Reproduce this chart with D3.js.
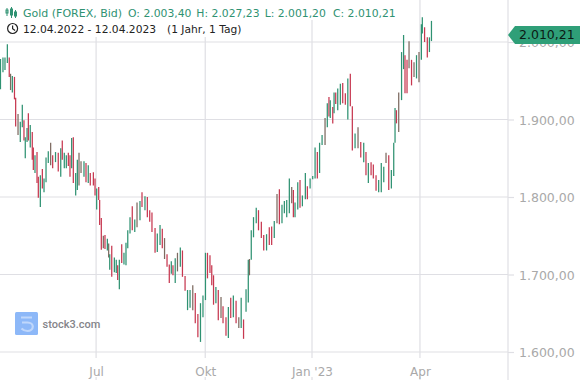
<!DOCTYPE html>
<html lang="de">
<head>
<meta charset="utf-8">
<script src="https://cdn.jsdelivr.net/npm/d3@7/dist/d3.min.js"></script>
<style>
html,body{margin:0;padding:0;background:#fff;overflow:hidden}
text{font-family:"DejaVu Sans",sans-serif}
</style>
</head>
<body>
<svg id="chart" width="580" height="380"></svg>
<script>
// Days since 12.04.2022 for each bar
const days = [0.4,2.5,4.2,6.2,7.8,8.9,10.4,12.2,13.2,15.2,17.1,18.8,20.2,21.3,22.8,23.9,25.5,27.2,28.1,29.5,31.2,32.3,34,35.7,37.1,38.8,40.7,42.7,44.4,46.8,49.1,51.2,52.5,54.2,55.9,57.6,59,60.4,61.8,63.8,65.2,66.6,68.3,70.8,72.5,74.4,76.1,78.7,80.1,81.5,83.2,84,85.4,87.1,88.5,90.5,91.6,92.5,94.2,96.4,98,99.2,100.6,102.6,104.5,106.2,107.7,109.6,111.5,113.6,115.5,118,119.7,122.2,124.2,126.2,128.1,130.7,132.6,134.9,136.8,138.7,140.8,142.7,144.4,145.8,147.7,149.6,152,153.8,156,158.1,160.2,162.5,164.6,166.8,169,171.1,173.2,174.9,177,178.5,180,182,184,186.3,188,190.5,192.5,194.5,196.7,199,201.3,203.3,205.3,207.4,209.3,210.3,211.8,213.7,216,217.9,220.3,222.3,224.7,227,229,231.2,233.5,235.5,237.7,239.7,241.7,243.9,245.9,247.3,248.7,251,252.9,254.9,257.4,259.1,261.4,263.6,265.6,267.5,269.4,271.5,274,275.9,277.3,278.4,280.5,281.6,283,284.7,286.9,288.9,291.1,293.2,295.3,297,299.3,301.8,304.1,306.6,308.5,310.5,312.8,314.7,317,319.2,321.4,323.5,325.4,327.7,329.9,331.9,333,334.2,336.1,338.5,340.2,341.4,343.1,344.8,346.9,349,351.1,353.2,355.2,356,357.9,360.2,362,363.7];
const highs = [1978,1980,1980,1997,1980,1959,1956,1955,1928,1907,1897,1919,1899,1877,1889,1908,1893,1884,1864,1854,1858,1826,1828,1836,1824,1851,1859,1870,1854,1858,1857,1863,1873,1857,1854,1857,1854,1876,1877,1831,1848,1857,1846,1846,1844,1841,1831,1832,1824,1811,1813,1796,1773,1750,1751,1746,1740,1726,1737,1722,1719,1712,1719,1739,1728,1741,1757,1774,1788,1771,1793,1795,1806,1801,1800,1783,1780,1760,1753,1764,1759,1747,1726,1713,1717,1712,1721,1728,1735,1731,1698,1680,1680,1686,1676,1649,1663,1673,1728,1728,1725,1712,1699,1684,1680,1671,1659,1645,1658,1670,1673,1666,1645,1670,1642,1681,1719,1720,1757,1774,1786,1783,1768,1751,1752,1761,1762,1769,1804,1810,1790,1795,1796,1824,1813,1809,1793,1819,1822,1802,1831,1814,1824,1827,1864,1858,1870,1880,1902,1921,1929,1925,1916,1935,1935,1940,1946,1947,1934,1953,1959,1917,1882,1890,1871,1870,1858,1844,1845,1842,1828,1822,1844,1839,1857,1854,1835,1870,1915,1912,1935,1987,2009,1983,1977,2001,1977,1974,1983,1987,2023,2032,2019,2006,2006,2027.23];
const lows = [1939,1961,1964,1973,1955,1938,1935,1926,1891,1880,1871,1890,1873,1850,1871,1873,1864,1848,1835,1831,1818,1799,1787,1811,1806,1819,1844,1841,1837,1845,1833,1826,1848,1837,1837,1840,1826,1837,1818,1802,1809,1815,1831,1826,1819,1818,1815,1815,1802,1784,1796,1764,1732,1734,1733,1731,1722,1706,1697,1703,1702,1693,1681,1715,1713,1712,1734,1753,1757,1755,1761,1770,1787,1783,1774,1768,1755,1728,1729,1738,1734,1720,1710,1689,1701,1699,1689,1704,1710,1697,1679,1654,1657,1654,1637,1619,1613,1645,1667,1695,1702,1686,1661,1663,1641,1644,1637,1621,1618,1644,1645,1637,1631,1631,1617,1652,1664,1699,1719,1748,1766,1757,1747,1731,1731,1738,1738,1747,1766,1765,1766,1779,1774,1779,1792,1774,1774,1784,1786,1788,1797,1797,1811,1823,1824,1824,1831,1867,1867,1890,1904,1902,1895,1908,1920,1912,1919,1921,1919,1900,1917,1860,1863,1863,1851,1845,1828,1818,1828,1824,1808,1806,1806,1819,1844,1809,1811,1827,1870,1895,1884,1925,1965,1934,1934,1966,1944,1955,1953,1948,1977,2011,2000,1980,1987,2001.2];
// Direction of each bar: u = up, d = down, f = nearly flat
const moveRows = ["uuuudfuddf","uuduududdu","dduduuufdu","duduuddudu","uffududddu","dddfdufudu","ududuuuudu","fududddduu","dfddudufud","duufdduuud","dddudfddud","udfuduufuu","uddduddufd","uuuufduudu","uduuuduufu","dududuuddu","ddufdududd","duuufduuud","fuuddfdfuf","uudduu"];
const moves = moveRows.join("").split("");
const yTicks = [1600,1700,1800,1900,2000];
const xTickDays = [81,173,263,354];
const xTickLabels = ["Jul","Okt","Jan '23","Apr"];
const lastPrice = 2010.21;
const headerName = "Gold (FOREX, Bid)";
const headerOHLC = ["O: 2.003,40","H: 2.027,23","L: 2.001,20","C: 2.010,21"];
const headerRange = "12.04.2022 - 12.04.2023";
const headerSpan = "(1 Jahr, 1 Tag)";
const brand = "stock3.com";

const W = 580, H = 380, axisX = 508;
const green = "#2f9272", red = "#c73850", flat = "#7d6a60", grid = "#dfdfe4", axisText = "#a9a9a9";
const svg = d3.select("#chart");
const x = d3.scaleLinear().domain([0,365]).range([0,433]);
const y = d3.scaleLinear().domain([1600,2000]).range([352,42]);
const de = d3.formatLocale({decimal:",",thousands:".",grouping:[3],currency:["",""]});
const fmt = de.format(",.2f");

// Grid
svg.append("g").selectAll("line").data(yTicks).join("line")
  .attr("x1",0).attr("x2",axisX).attr("y1",d=>y(d)).attr("y2",d=>y(d))
  .attr("stroke",grid).attr("stroke-width",1.2);
svg.append("g").selectAll("line").data(xTickDays).join("line")
  .attr("x1",d=>x(d)).attr("x2",d=>x(d)).attr("y1",0).attr("y2",H)
  .attr("stroke",grid).attr("stroke-width",1.2);

// Watermark
const wm = svg.append("g");
wm.append("rect").attr("x",15).attr("y",312).attr("width",23).attr("height",23).attr("rx",1.5).attr("fill","#8db8f8");
wm.append("path").attr("d","M21 317.5H32M22 322.5H27.5C31 322.5 32.8 324.5 32.8 326.5C32.8 329 30.5 331 27.5 331C25 331 23 330 21.5 328.5")
  .attr("fill","none").attr("stroke","#c0d7fb").attr("stroke-width",2.2);
wm.append("text").attr("x",42.5).attr("y",328).attr("font-size",11).attr("font-weight",500)
  .style("font-family","Roboto, sans-serif").attr("fill","#85858a").text(brand);

// Bars
const color = m => m==="u"?green:m==="d"?red:flat;
svg.append("g").selectAll("line").data(days).join("line")
  .attr("x1",d=>x(d)).attr("x2",d=>x(d))
  .attr("y1",(d,i)=>y(highs[i])).attr("y2",(d,i)=>y(lows[i]))
  .attr("stroke",(d,i)=>color(moves[i])).attr("stroke-width",1.25);

// Header
const head = svg.append("g");
head.append("rect").attr("x",0).attr("y",0).attr("width",398).attr("height",20).attr("fill","#fff");
head.append("rect").attr("x",0).attr("y",20).attr("width",244).attr("height",17).attr("fill","#fff");
const ic = head.append("g").attr("stroke",green).attr("fill","none").attr("stroke-width",1);
[[7,8,16,10,13],[11.5,7,18,9,15],[15.5,10,18,12,16]].forEach(c=>{
  ic.append("line").attr("x1",c[0]).attr("x2",c[0]).attr("y1",c[1]).attr("y2",c[2]);
  ic.append("rect").attr("x",c[0]-1).attr("y",c[3]).attr("width",2).attr("height",c[4]-c[3]);
});
head.append("text").attr("x",23).attr("y",17).attr("font-size",11).attr("fill",green).text(headerName);
const ohlcX = d3.scalePoint().domain(headerOHLC).range([128,333]);
head.append("g").selectAll("text").data(headerOHLC).join("text")
  .attr("x",d=>ohlcX(d)).attr("y",17).attr("font-size",10.8).attr("fill",green).text(d=>d);
const ck = head.append("g").attr("fill","none").attr("stroke","#222").attr("stroke-width",1.2);
ck.append("circle").attr("cx",12.6).attr("cy",28.5).attr("r",5);
ck.append("path").attr("d","M12.6 25.5V28.8L15.1 30.5");
head.append("text").attr("x",23).attr("y",33).attr("font-size",10.7).attr("fill","#222").text(headerRange);
head.append("text").attr("x",167).attr("y",33).attr("font-size",10.7).attr("fill","#222").text(headerSpan);

// Y axis
const ya = svg.append("g").attr("transform",`translate(${axisX},0)`)
  .call(d3.axisRight(y).tickValues(yTicks).tickFormat(fmt).tickSize(6).tickPadding(5));
ya.select(".domain").attr("d",`M0,0V${H}`).attr("stroke",grid).attr("stroke-width",1.2);
ya.selectAll(".tick line").attr("stroke",grid).attr("stroke-width",1.2);
ya.selectAll("text").attr("font-size",12.5).attr("font-family","DejaVu Sans").attr("fill",axisText).attr("dy","0.38em");

// X axis labels
const xa = svg.append("g").attr("transform",`translate(0,${H-20})`)
  .call(d3.axisBottom(x).tickValues(xTickDays).tickFormat((d,i)=>xTickLabels[i]).tickSize(0).tickPadding(7));
xa.select(".domain").remove();
xa.selectAll(".tick").insert("rect","text").attr("x",-22).attr("y",-2).attr("width",44).attr("height",19).attr("fill","#fff");
xa.selectAll("text").attr("font-size",12).attr("font-family","DejaVu Sans").attr("fill",axisText);

// Last-price tag
const ly = y(lastPrice) + 0.8;
const tag = svg.append("g");
tag.append("path").attr("d",`M${axisX} ${ly}L${axisX+7} ${ly-9}H${W}V${ly+9}H${axisX+7}Z`).attr("fill","#2f9f78");
tag.append("text").attr("x",axisX+11).attr("y",ly+4.5).attr("font-size",12.5).attr("fill","#0c1a14").text(fmt(lastPrice));
</script>
</body>
</html>
